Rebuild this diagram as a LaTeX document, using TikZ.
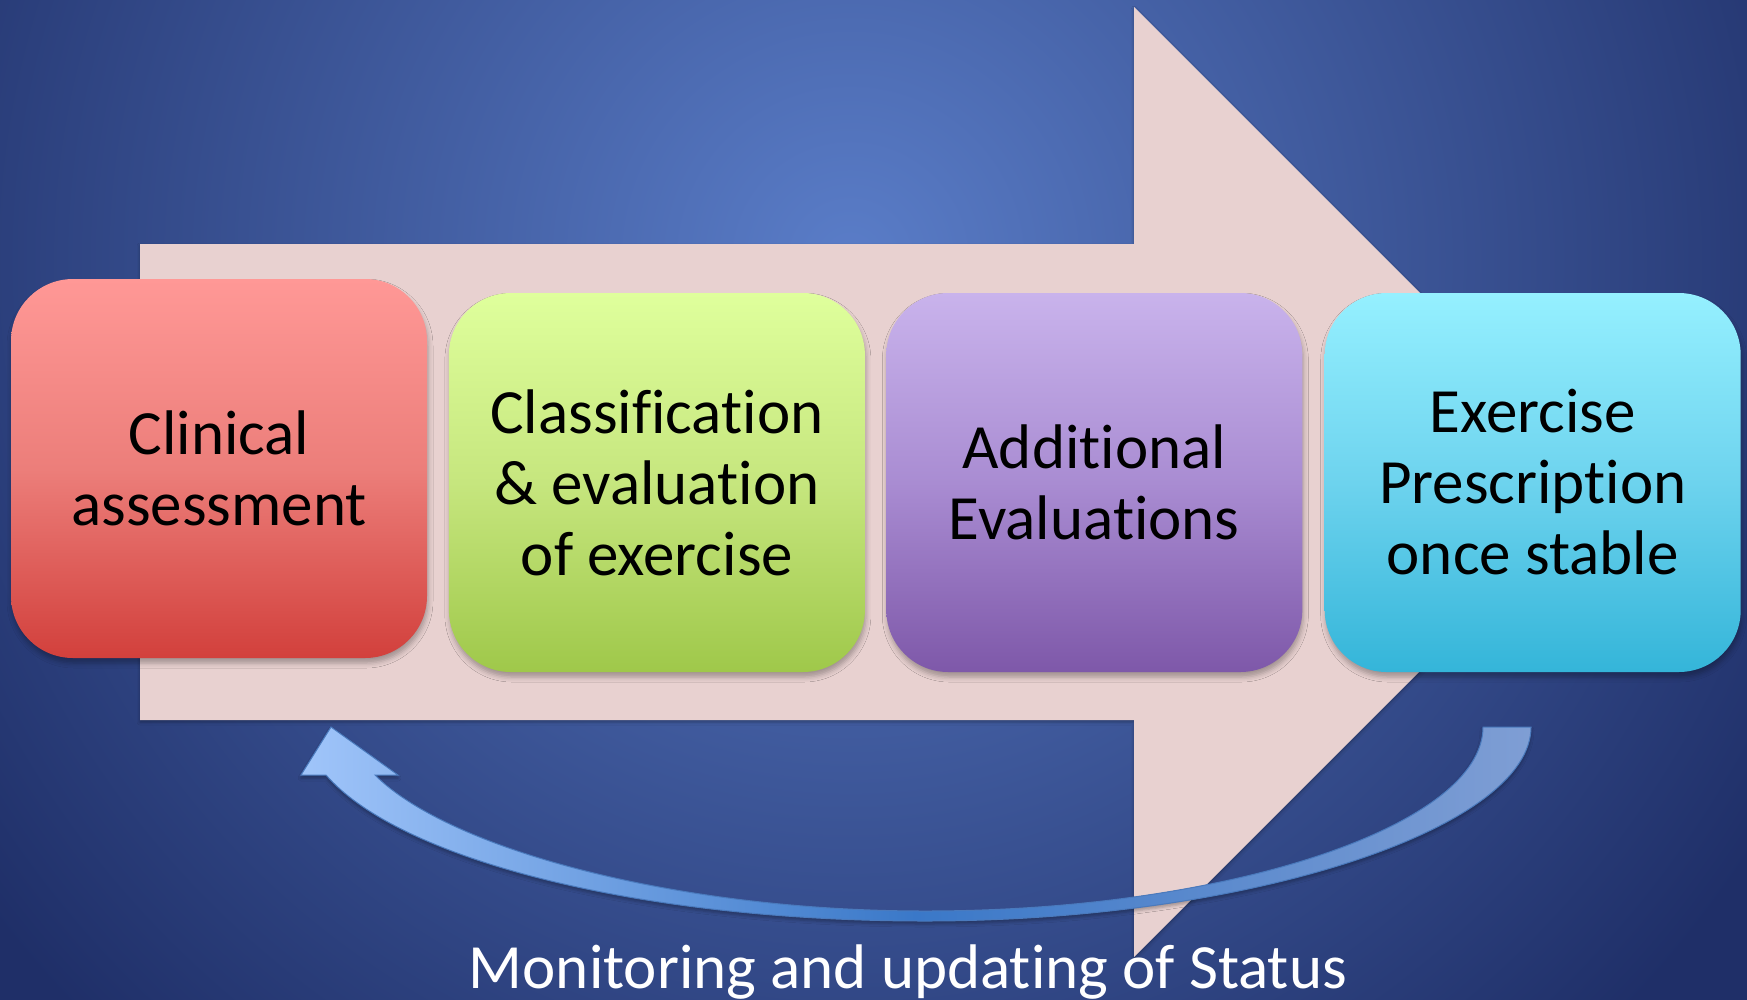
\documentclass[tikz,border=0pt]{standalone}
\usepackage{fontspec}
\setmainfont{Carlito}[RawFeature=-liga]
\usetikzlibrary{positioning,shadows.blur}

\definecolor{bglight}{HTML}{5A7DC8}
\definecolor{bgdark}{HTML}{1F2F68}
\definecolor{flowpink}{HTML}{E8D1D0}

\definecolor{redtop}{HTML}{FF9896}
\definecolor{redmid}{HTML}{EC7E7A}
\definecolor{redbot}{HTML}{D2403C}
\definecolor{greentop}{HTML}{DFFF9C}
\definecolor{greenmid}{HTML}{C6E67E}
\definecolor{greenbot}{HTML}{9FC84A}
\definecolor{purptop}{HTML}{C9B3EC}
\definecolor{purpmid}{HTML}{A98CD2}
\definecolor{purpbot}{HTML}{7E58A9}
\definecolor{cyantop}{HTML}{95F0FF}
\definecolor{cyanmid}{HTML}{6DD3EE}
\definecolor{cyanbot}{HTML}{34B5D9}

\definecolor{loopleft}{HTML}{A0C5FA}
\definecolor{loopmid}{HTML}{3A78C8}
\definecolor{loopright}{HTML}{7F9ED4}
\definecolor{loopedge}{HTML}{4A7ABD}

\begin{document}
\begin{tikzpicture}[x=1pt, y=-1pt,
  stage/.style={rounded corners=62pt, minimum width=416pt, minimum height=379pt,
    inner sep=0pt, align=center, font=\fontsize{63}{71}\selectfont,
    blur shadow={shadow xshift=1pt, shadow yshift=-5pt,
      shadow blur radius=5pt, shadow opacity=30}},
  caption/.style={font=\fontsize{63}{71}\selectfont, text=white}]

  \useasboundingbox (0,0) rectangle (1747,999);

  % background glow (a little larger than the page)
  \begin{scope}
    \clip (-6,-6) rectangle (1753,1005);
    \fill[bgdark] (-6,-6) rectangle (1753,1005);
    \shade[inner color=bglight, outer color=bgdark] (850,260) circle (1080pt);
  \end{scope}

  % big process arrow
  \fill[flowpink, blur shadow={shadow xshift=0pt, shadow yshift=-2pt,
      shadow blur radius=3pt, shadow opacity=30}]
    (140,244) -- (1134,244) -- (1134,7) -- (1609,482)
    -- (1134,957) -- (1134,720) -- (140,720) -- cycle;

  % Define nodes

  % Clinical assessment
  \node[stage, top color=redtop, bottom color=redbot, middle color=redmid]
    (ca) at (219,468.5) {Clinical\\assessment}; %

  % Classification
  \node[stage, right=21.5pt of ca, yshift=-14pt,
    top color=greentop, bottom color=greenbot, middle color=greenmid]
    (ce) {Classification\\\& evaluation\\of exercise}; %

  % Additional evaluations
  \node[stage, right=21pt of ce,
    top color=purptop, bottom color=purpbot, middle color=purpmid]
    (ae) {Additional\\Evaluations}; %

  % Exercise prescription
  \node[stage, right=22pt of ae,
    top color=cyantop, bottom color=cyanbot, middle color=cyanmid]
    (ep) {Exercise\\Prescription\\once stable}; %

  % feedback loop back to the start
  \path[draw=loopedge, line width=1pt,
      left color=loopleft, right color=loopright, middle color=loopmid,
      blur shadow={shadow xshift=0pt, shadow yshift=-3pt,
        shadow blur radius=3pt, shadow opacity=30}]
    (331,727) -- (398,775) -- (375,775)
    .. controls (450,850) and (680,911) .. (925,911)
    .. controls (1230,911) and (1483,825) .. (1483,727)
    -- (1531,727)
    .. controls (1531,827) and (1255,921) .. (925,921)
    .. controls (640,921) and (400,860) .. (326,775)
    -- (301,775) -- cycle;

  \node[caption, anchor=base] (ms) at (908,988) {Monitoring and updating of Status}; %

\end{tikzpicture}
\end{document}
